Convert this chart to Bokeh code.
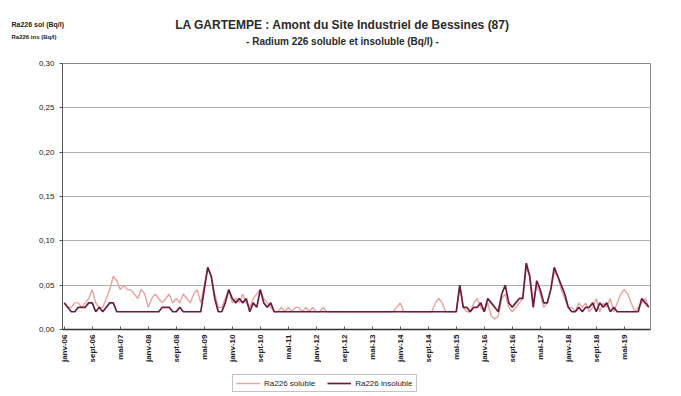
from bokeh.plotting import figure
from bokeh.layouts import column
from bokeh.models import FixedTicker, Range1d, Legend, LegendItem, ColumnDataSource, Label
from bokeh.embed import file_html
from bokeh.resources import INLINE

# ---- data (monthly samples, janv-06 .. déc-19) ----
soluble = [
    0.03, 0.025, 0.025, 0.03, 0.03, 0.025, 0.03, 0.035, 0.045, 0.03, 0.025, 0.025,
    0.035, 0.045, 0.06, 0.055, 0.045, 0.05, 0.045, 0.045, 0.04, 0.035, 0.045, 0.04,
    0.025, 0.035, 0.04, 0.035, 0.03, 0.035, 0.04, 0.03, 0.035, 0.03, 0.04, 0.035,
    0.03, 0.04, 0.045, 0.03, 0.05, 0.07, 0.06, 0.04, 0.025, 0.025, 0.035, 0.045,
    0.03, 0.035, 0.03, 0.04, 0.03, 0.025, 0.035, 0.04, 0.045, 0.035, 0.03, 0.025,
    0.02, 0.02, 0.025, 0.02, 0.025, 0.02, 0.025, 0.025, 0.02, 0.025, 0.02, 0.025,
    0.02, 0.02, 0.025, 0.02, 0.02, 0.02, 0.02, 0.02, 0.02, 0.02, 0.02, 0.02,
    0.02, 0.02, 0.02, 0.02, 0.02, 0.02, 0.02, 0.02, 0.02, 0.02, 0.02, 0.025,
    0.03, 0.02, 0.02, 0.02, 0.02, 0.02, 0.02, 0.02, 0.02, 0.02, 0.03, 0.035,
    0.03, 0.02, 0.02, 0.02, 0.02, 0.05, 0.025, 0.02, 0.02, 0.03, 0.035, 0.025,
    0.02, 0.03, 0.015, 0.012, 0.015, 0.035, 0.04, 0.025, 0.02, 0.025, 0.03, 0.035,
    0.07, 0.06, 0.03, 0.05, 0.04, 0.025, 0.03, 0.045, 0.065, 0.06, 0.045, 0.035,
    0.025, 0.025, 0.02, 0.03, 0.025, 0.03, 0.02, 0.025, 0.035, 0.02, 0.03, 0.025,
    0.035, 0.02, 0.03, 0.04, 0.045, 0.04, 0.03, 0.02, 0.025, 0.03, 0.035, 0.025,
]
insoluble = [
    0.03, 0.025, 0.02, 0.02, 0.025, 0.025, 0.025, 0.03, 0.03, 0.02, 0.025, 0.02,
    0.025, 0.03, 0.03, 0.02, 0.02, 0.02, 0.02, 0.02, 0.02, 0.02, 0.02, 0.02,
    0.02, 0.02, 0.02, 0.02, 0.025, 0.025, 0.025, 0.02, 0.02, 0.025, 0.02, 0.02,
    0.02, 0.02, 0.02, 0.02, 0.045, 0.07, 0.06, 0.035, 0.02, 0.02, 0.03, 0.045,
    0.035, 0.03, 0.035, 0.03, 0.035, 0.02, 0.03, 0.025, 0.045, 0.03, 0.025, 0.03,
    0.02, 0.02, 0.02, 0.02, 0.02, 0.02, 0.02, 0.02, 0.02, 0.02, 0.02, 0.02,
    0.02, 0.02, 0.02, 0.02, 0.02, 0.02, 0.02, 0.02, 0.02, 0.02, 0.02, 0.02,
    0.02, 0.02, 0.02, 0.02, 0.02, 0.02, 0.02, 0.02, 0.02, 0.02, 0.02, 0.02,
    0.02, 0.02, 0.02, 0.02, 0.02, 0.02, 0.02, 0.02, 0.02, 0.02, 0.02, 0.02,
    0.02, 0.02, 0.02, 0.02, 0.02, 0.05, 0.025, 0.025, 0.02, 0.025, 0.025, 0.03,
    0.02, 0.035, 0.03, 0.025, 0.02, 0.04, 0.05, 0.03, 0.025, 0.03, 0.035, 0.035,
    0.075, 0.06, 0.025, 0.055, 0.045, 0.03, 0.03, 0.045, 0.07, 0.06, 0.05, 0.04,
    0.025, 0.02, 0.02, 0.025, 0.02, 0.025, 0.025, 0.03, 0.02, 0.03, 0.025, 0.03,
    0.02, 0.025, 0.02, 0.02, 0.02, 0.02, 0.02, 0.02, 0.02, 0.035, 0.03, 0.025,
]
tick_labels = ["janv-06", "sept-06", "mai-07", "janv-08", "sept-08", "mai-09", "janv-10",
               "sept-10", "mai-11", "janv-12", "sept-12", "mai-13", "janv-14", "sept-14",
               "mai-15", "janv-16", "sept-16", "mai-17", "janv-18", "sept-18", "mai-19"]
label_step = 8
y_ticks = [0.0, 0.05, 0.10, 0.15, 0.20, 0.25, 0.30]
y_tick_labels = ["0,00", "0,05", "0,10", "0,15", "0,20", "0,25", "0,30"]
series_names = ["Ra226 soluble", "Ra226 insoluble"]
title_lines = ["LA GARTEMPE : Amont du Site Industriel de Bessines (87)",
               "- Radium 226 soluble et insoluble (Bq/l) -"]
unit_lines = ["Ra226 sol (Bq/l)", "Ra226 ins (Bq/l)"]

FONT = "Liberation Sans"
COL_SOL = "#e8a39e"
COL_INS = "#6a1d40"
W = 673

idx = list(range(len(soluble)))
src = ColumnDataSource(dict(x=idx, sol=soluble, ins=insoluble))

# ---------------- header (title + unit captions) ----------------
HH = 55
head = figure(width=W, height=HH, output_backend="svg", toolbar_location=None,
              x_range=Range1d(0, W), y_range=Range1d(0, HH),
              x_axis_type=None, y_axis_type=None, min_border=0, frame_align=False)
head.outline_line_color = None
head.add_layout(Label(x=342, y=HH - 24, text=title_lines[0], text_font=FONT,
                      text_font_size="12px", text_font_style="bold", text_align="center",
                      text_baseline="middle", text_color="#2a2a2a"))
head.add_layout(Label(x=342, y=HH - 41, text=title_lines[1], text_font=FONT,
                      text_font_size="10px", text_font_style="bold", text_align="center",
                      text_baseline="middle", text_color="#2a2a2a"))
head.add_layout(Label(x=11, y=HH - 24, text=unit_lines[0], text_font=FONT,
                      text_font_size="7px", text_font_style="bold", text_align="left",
                      text_baseline="middle", text_color="#222222"))
head.add_layout(Label(x=11, y=HH - 36, text=unit_lines[1], text_font=FONT,
                      text_font_size="6px", text_font_style="bold", text_align="left",
                      text_baseline="middle", text_color="#222222"))

# ---------------- main chart ----------------
MH = 313
p = figure(width=W, height=MH, output_backend="svg", toolbar_location=None,
           x_range=Range1d(-0.5, len(soluble) - 0.5), y_range=Range1d(0, 0.30),
           min_border_left=62, min_border_right=23, min_border_top=8, min_border_bottom=39,
           frame_align=False)
p.background_fill_color = "white"
p.border_fill_color = "white"
p.outline_line_color = "#8a8a8a"

p.xgrid.visible = False
p.ygrid.ticker = FixedTicker(ticks=y_ticks)
p.ygrid.grid_line_color = "#8a8a8a"
p.ygrid.grid_line_alpha = 0.7

p.line("x", "sol", source=src, line_color=COL_SOL, line_width=1.4)
p.line("x", "ins", source=src, line_color=COL_INS, line_width=1.7)

p.yaxis.ticker = FixedTicker(ticks=y_ticks)
p.yaxis.major_label_overrides = {t: l for t, l in zip(y_ticks, y_tick_labels)}
p.yaxis.major_label_text_font = FONT
p.yaxis.major_label_text_font_size = "8px"
p.yaxis.major_label_text_color = "#222222"
p.yaxis.axis_line_color = "#555555"
p.yaxis.major_tick_line_color = "#555555"
p.yaxis.major_tick_out = 3
p.yaxis.major_tick_in = 0
p.yaxis.minor_tick_line_color = None

xt = [i * label_step for i in range(len(tick_labels))]
p.xaxis.ticker = FixedTicker(ticks=xt)
p.xaxis.major_label_overrides = {t: l for t, l in zip(xt, tick_labels)}
p.xaxis.major_label_orientation = 1.5708
p.xaxis.major_label_text_font = FONT
p.xaxis.major_label_text_font_size = "8px"
p.xaxis.major_label_text_font_style = "bold"
p.xaxis.major_label_text_color = "#222222"
p.xaxis.axis_line_color = "#333333"
p.xaxis.axis_line_width = 1.5
p.xaxis.major_tick_line_color = "#555555"
p.xaxis.major_tick_in = 3
p.xaxis.major_tick_out = 0
p.xaxis.minor_tick_line_color = None

# ---------------- legend strip ----------------
# same series drawn out of view (y range far above the data) so only the legend shows
LH = 26
leg = figure(width=W, height=LH, output_backend="svg", toolbar_location=None,
             x_range=Range1d(0, 1), y_range=Range1d(10, 11),
             x_axis_type=None, y_axis_type=None, min_border=0, frame_align=False)
leg.outline_line_color = None
lr1 = leg.line("x", "sol", source=src, line_color=COL_SOL, line_width=1.4)
lr2 = leg.line("x", "ins", source=src, line_color=COL_INS, line_width=1.7)
legend = Legend(items=[LegendItem(label=series_names[0], renderers=[lr1]),
                       LegendItem(label=series_names[1], renderers=[lr2])],
                orientation="horizontal", location=(232, 2),
                label_text_font=FONT, label_text_font_size="8px",
                label_text_color="#222222", glyph_width=24, glyph_height=10,
                spacing=12, padding=3, margin=0,
                border_line_color="#888888", background_fill_alpha=1.0,
                label_standoff=4)
leg.add_layout(legend)

layout = column(head, p, leg, spacing=0)
open("out.html", "w").write(file_html(layout, INLINE))
